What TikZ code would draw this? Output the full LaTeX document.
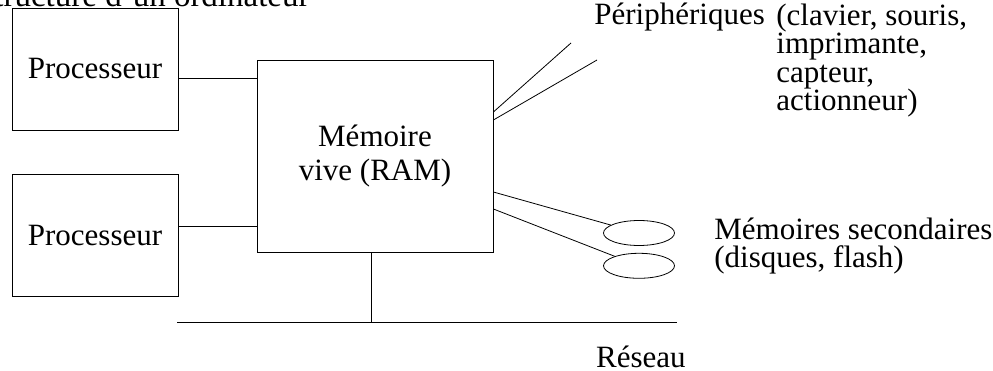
\documentclass[tikz,border=0pt]{standalone}
\usepackage{fontspec}
\setmainfont{Liberation Serif}
\usetikzlibrary{shapes,positioning}
\tikzstyle{boite} = [rectangle, draw, inner sep=0pt,
    minimum width=166pt, minimum height=122pt]
\tikzstyle{disque} = [ellipse, draw, inner sep=0pt,
    minimum width=71pt, minimum height=25pt]
\tikzstyle{etiq} = [inner sep=0pt, align=left]

\begin{document}
\begin{tikzpicture}[x=1pt,y=-1pt,line width=0.8pt,
                    font=\fontsize{31}{28.5}\selectfont]
  \useasboundingbox (0,0) rectangle (993,371);
  \node[etiq, anchor=base east, font=\fontsize{33}{36}\selectfont] (titre) at (310,7) {Structure d'un ordinateur};

  \node[boite]   (p1) at (95,69)          {Processeur};
  \node[boite]   (p2) [below=44pt of p1]  {Processeur};
  \node[boite, minimum width=236pt, minimum height=192pt, align=center,
        font=\fontsize{31}{34}\selectfont] (ram) at (375,156) {Mémoire\\vive (RAM)};

  \node[disque]  (d1) at (639,233)       {};
  \node[disque]  (d2) [below=7pt of d1]  {};

  \node[etiq, anchor=base west] (per)  at (594,25)  {Périphériques};
  \node[etiq, anchor=base west] (perl) at (776,111) {(clavier, souris,\\imprimante,\\capteur,\\actionneur)};
  \node[etiq, anchor=base west] (sec)  at (714,268) {Mémoires secondaires\\(disques, flash)};
  \node[etiq, anchor=base east] (res)  at (686,367) {Réseau};

  \coordinate (f1) at (571,43);
  \coordinate (f2) at (597,60);
  \coordinate (rg) at (177,322);
  \coordinate (rd) at (677,322);

  \draw ([yshift=-9pt]p1.east) coordinate (a1) -- (a1 -| ram.west);
  \draw ([yshift=9pt]p2.east) coordinate (a2) -- (a2 -| ram.west);
  \draw ([yshift=44pt]ram.east) -- (f1);
  \draw ([yshift=36pt]ram.east) -- (f2);
  \draw ([yshift=-36pt]ram.east) -- (d1);
  \draw ([yshift=-53pt]ram.east) -- (d2);
  \draw (rg) -- (rd);
  \draw ([xshift=-4pt]ram.south) coordinate (b) -- (b |- rg);
\end{tikzpicture}
\end{document}
